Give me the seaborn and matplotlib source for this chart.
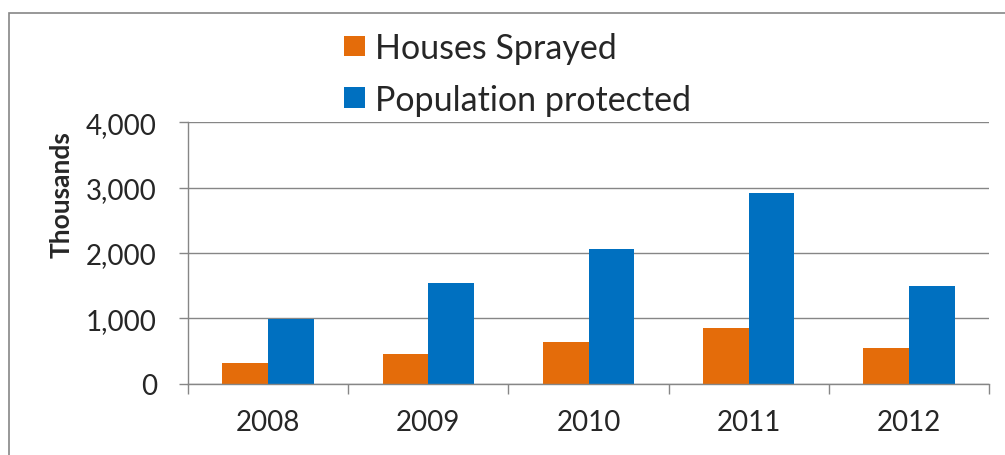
import matplotlib
matplotlib.use("Agg")
import matplotlib.pyplot as plt
import seaborn as sns
import pandas as pd
from matplotlib.patches import Rectangle
from matplotlib.ticker import FuncFormatter

# Data (thousands)
years = ["2008", "2009", "2010", "2011", "2012"]
houses_sprayed = [312, 454, 638, 852, 541]
population_protected = [995, 1536, 2057, 2913, 1500]
series_names = ["Houses Sprayed", "Population protected"]
y_ticks = [0, 1000, 2000, 3000, 4000]
colors = ["#E46C0A", "#0070C0"]

df = pd.DataFrame({
    "Year": years * 2,
    "Series": [series_names[0]] * len(years) + [series_names[1]] * len(years),
    "Value": houses_sprayed + population_protected,
})

sns.set_style("white")
plt.rcParams["font.family"] = ["Lato", "DejaVu Sans"]

W, H = 1005, 456
GRAY = "#868686"
fig = plt.figure(figsize=(W / 100, H / 100), dpi=100)
ax = fig.add_axes([188 / W, 1 - 384.7 / H, (989 - 188) / W, (384.7 - 123.3) / H])

sns.barplot(data=df, x="Year", y="Value", hue="Series", palette=colors,
            width=0.57, saturation=1, errorbar=None, linewidth=0, ax=ax)

ax.set_xlim(-0.5, len(years) - 0.5)
ax.set_ylim(0, y_ticks[-1])
ax.set_yticks(y_ticks)
ax.yaxis.set_major_formatter(FuncFormatter(lambda v, _: f"{v:,.0f}"))
ax.yaxis.grid(True, color=GRAY, lw=1)
ax.set_axisbelow(True)

for side in ("top", "right"):
    ax.spines[side].set_visible(False)
for side in ("left", "bottom"):
    ax.spines[side].set_color(GRAY)
    ax.spines[side].set_linewidth(1)

# category boundaries carry the tick marks, centers carry the labels
ax.set_xticks([i - 0.5 for i in range(len(years) + 1)])
ax.set_xticklabels([])
ax.set_xticks(range(len(years)), minor=True)
ax.set_xticklabels(years, minor=True)
ax.tick_params(axis="x", which="major", bottom=True, length=7, width=1, color=GRAY)
ax.tick_params(axis="x", which="minor", bottom=True, length=0, pad=18, labelsize=20)
ax.tick_params(axis="y", left=True, length=6.5, width=1, color=GRAY, pad=16, labelsize=20)
ax.set_xlabel("")
ax.set_ylabel("")

fig.text(62 / W, 1 - 195 / H, "Thousands", rotation=90, ha="center", va="center",
         fontsize=19, fontweight="bold")

ax.legend(loc="upper left", bbox_to_anchor=(344 / W, 1 - 33 / H),
          bbox_transform=fig.transFigure, frameon=False, fontsize=24.5,
          handlelength=0.62, handleheight=0.57, handletextpad=0.3,
          labelspacing=0.58, borderpad=0, borderaxespad=0)

fig.patches.append(Rectangle((8.7 / W, -0.1), 1.2, 1 - 13.7 / H + 0.1,
                             transform=fig.transFigure, fill=False,
                             edgecolor=GRAY, lw=1.2))

fig.savefig("out.png", dpi=100)
